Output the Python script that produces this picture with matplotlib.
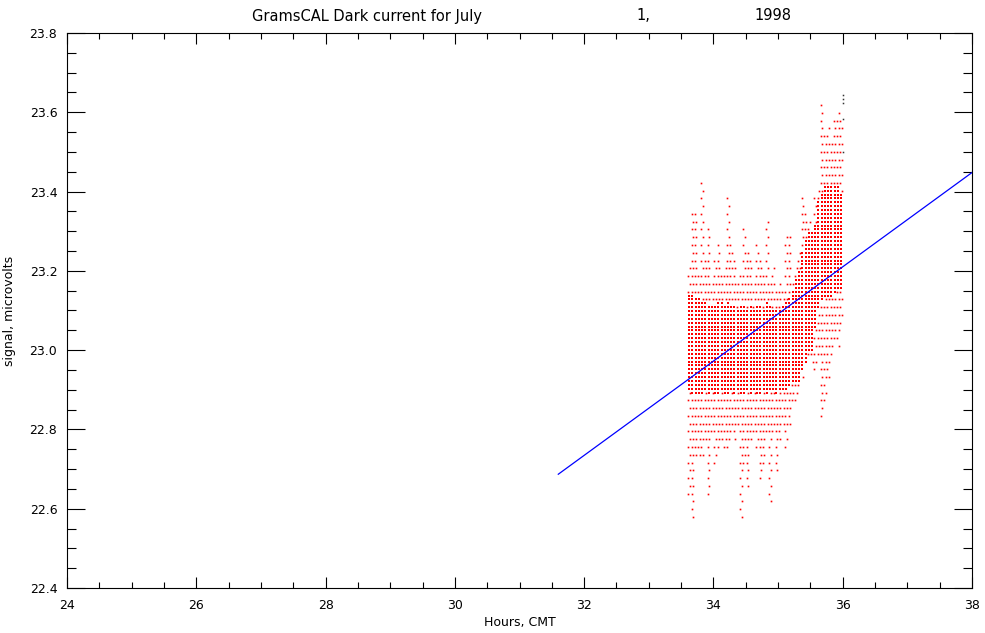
import numpy as np
import matplotlib
matplotlib.use("Agg")
import matplotlib.pyplot as plt
from matplotlib.ticker import MultipleLocator

# sample columns (hours, GMT) -- one every 0.05 h
col_x = np.arange(33.625, 36.0, 0.05)

# highest / lowest reading in each column
col_top = [23.22, 23.35, 23.35, 23.20, 23.44, 23.24, 23.31, 23.18, 23.24, 23.27,
           23.20, 23.22, 23.40, 23.27, 23.23, 23.18, 23.20, 23.31, 23.25, 23.24,
           23.18, 23.28, 23.24, 23.20, 23.33, 23.18, 23.22, 23.15, 23.17, 23.16,
           23.30, 23.30, 23.18, 23.22, 23.25, 23.40, 23.35, 23.33, 23.30, 23.40,
           23.42, 23.62, 23.55, 23.56, 23.52, 23.59, 23.60, 23.58]
col_bot = [22.62, 22.56, 22.72, 22.73, 22.73, 22.76, 22.63, 22.78, 22.71, 22.75,
           22.77, 22.74, 22.74, 22.78, 22.77, 22.80, 22.56, 22.71, 22.65, 22.76,
           22.78, 22.75, 22.66, 22.70, 22.79, 22.60, 22.78, 22.68, 22.76, 22.80,
           22.74, 22.80, 22.86, 22.87, 22.90, 22.93, 22.96, 22.98, 22.96, 22.95,
           22.98, 22.83, 22.87, 22.93, 22.98, 23.02, 23.00, 23.06]

# dense band in each column
core_top = [23.14, 23.14, 23.13, 23.13, 23.12, 23.12, 23.11, 23.11, 23.11, 23.12,
            23.12, 23.11, 23.12, 23.11, 23.11, 23.10, 23.11, 23.11, 23.10, 23.11,
            23.10, 23.11, 23.11, 23.10, 23.12, 23.11, 23.10, 23.10, 23.10, 23.11,
            23.12, 23.13, 23.15, 23.18, 23.20, 23.25, 23.28, 23.30, 23.30, 23.32,
            23.38, 23.40, 23.42, 23.42, 23.42, 23.42, 23.42, 23.40]
core_bot = [22.90, 22.89, 22.89, 22.89, 22.89, 22.90, 22.89, 22.90, 22.89, 22.89,
            22.90, 22.89, 22.89, 22.90, 22.89, 22.90, 22.89, 22.89, 22.90, 22.89,
            22.90, 22.89, 22.89, 22.90, 22.89, 22.90, 22.90, 22.89, 22.90, 22.90,
            22.90, 22.91, 22.92, 22.92, 22.92, 22.95, 22.97, 23.00, 23.00, 23.05,
            23.10, 23.12, 23.13, 23.13, 23.13, 23.14, 23.15, 23.15]

# a few black points at the end of the run
blk_x = [36.005, 36.005, 36.005, 36.005, 36.005]
blk_y = [23.644, 23.633, 23.623, 23.582, 23.500]

# fitted trend line end points
fit_x = [31.6, 38.0]
fit_y = [22.687, 23.448]

step = 0.0098  # ADC resolution

# dense part drawn as short dashes, outliers as single dots
dx, dy = [], []
sx, sy = [], []
for i in range(len(col_x)):
    k0 = int(np.ceil(col_bot[i] / step))
    k1 = int(np.floor(col_top[i] / step))
    for k in range(k0, k1 + 1):
        v = k * step
        if core_bot[i] <= v <= core_top[i]:
            dx.append(col_x[i])
            dy.append(v)
        elif k % 2 == 0:
            sx.append(col_x[i] + (0.012 if k % 4 == 0 else -0.012))
            sy.append(v)

dash = [(-1.25, -0.5), (1.25, -0.5), (1.25, 0.5), (-1.25, 0.5), (-1.25, -0.5)]

fig = plt.figure(figsize=(9.85, 6.33), dpi=100)
ax = fig.add_axes([67/985, 1-588/633, (972-67)/985, (588-33)/633])

ax.plot(dx, dy, ls='none', marker=dash, ms=2.1, mew=0, mfc='#ff0000')
ax.plot(sx, sy, ls='none', marker='s', ms=1.2, mew=0, mfc='#ff0000')
ax.plot(blk_x, blk_y, ls='none', marker='s', ms=1.1, mew=0, mfc='#333333')
ax.plot(fit_x, fit_y, color='#0000ff', lw=0.9)

ax.set_xlim(24, 38)
ax.set_ylim(22.4, 23.8)
ax.xaxis.set_major_locator(MultipleLocator(2))
ax.xaxis.set_minor_locator(MultipleLocator(0.5))
ax.yaxis.set_major_locator(MultipleLocator(0.2))
ax.yaxis.set_minor_locator(MultipleLocator(0.05))
ax.yaxis.set_major_formatter(plt.FormatStrFormatter('%.1f'))
ax.xaxis.set_major_formatter(plt.FormatStrFormatter('%d'))

ax.tick_params(axis='x', which='major', direction='in', length=8, width=0.8,
               top=True, labelsize=9, pad=8)
ax.tick_params(axis='x', which='minor', direction='in', length=4, width=0.8, top=True)
ax.tick_params(axis='y', which='major', direction='in', length=13, width=0.8,
               right=True, labelsize=9, pad=7)
ax.tick_params(axis='y', which='minor', direction='in', length=6.5, width=0.8, right=True)
for s in ax.spines.values():
    s.set_linewidth(0.8)

ax.set_xlabel('Hours, CMT', fontsize=9, labelpad=3)
ax.set_ylabel('signal, microvolts', fontsize=9, labelpad=10)

fig.text(252/985, 1-16/633, 'GramsCAL Dark current for July', fontsize=10.5,
         ha='left', va='center')
fig.text(643/985, 1-16/633, '1,', fontsize=10.5, ha='center', va='center')
fig.text(773/985, 1-16/633, '1998', fontsize=10.5, ha='center', va='center')

fig.savefig('out.png', dpi=100)
